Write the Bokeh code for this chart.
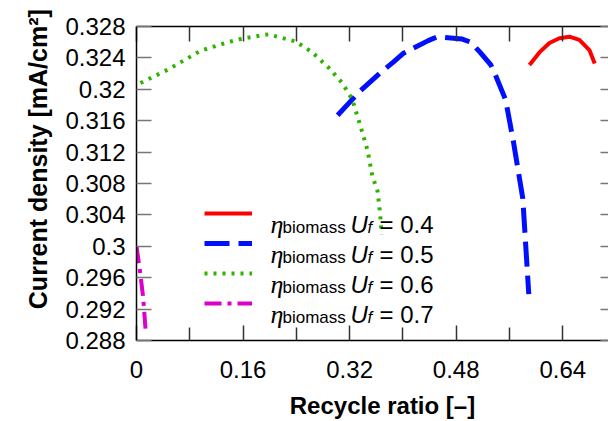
from bokeh.plotting import figure
from bokeh.models import LinearAxis, FixedTicker, Legend, LegendItem, Label, Range1d
from bokeh.embed import file_html
from bokeh.resources import INLINE

# ---- data ----
uf_values = ["0.4", "0.5", "0.6", "0.7"]

x_uf04 = [0.590, 0.605, 0.620, 0.635, 0.650, 0.665, 0.680, 0.688]
y_uf04 = [0.3231, 0.3247, 0.3259, 0.3265, 0.3267, 0.3263, 0.3250, 0.3233]

x_uf05 = [0.302, 0.336, 0.366, 0.386, 0.401, 0.438, 0.452, 0.489, 0.502,
          0.516, 0.532, 0.539, 0.554, 0.557, 0.566, 0.580, 0.589]
y_uf05 = [0.3167, 0.3198, 0.3221, 0.3235, 0.3246, 0.3262, 0.3267, 0.3264, 0.3260,
          0.3247, 0.3231, 0.3218, 0.3187, 0.3174, 0.3133, 0.3061, 0.2939]

x_uf06 = [0.006, 0.047, 0.096, 0.137, 0.161, 0.198, 0.239, 0.264, 0.288,
          0.309, 0.324, 0.336, 0.347, 0.354, 0.362, 0.366, 0.368]
y_uf06 = [0.3208, 0.3225, 0.3249, 0.3260, 0.3265, 0.3270, 0.3261, 0.3247, 0.3228,
          0.3208, 0.3187, 0.3154, 0.3122, 0.3090, 0.3070, 0.3040, 0.3015]

x_uf07 = [0.000, 0.005, 0.010, 0.0135]
y_uf07 = [0.3000, 0.2970, 0.2935, 0.2895]

x_major_ticks = [0, 0.16, 0.32, 0.48, 0.64]
x_minor_ticks = [0.08, 0.24, 0.40, 0.56]
x_tick_labels = ["0", "0.16", "0.32", "0.48", "0.64"]
y_ticks = [0.288, 0.292, 0.296, 0.3, 0.304, 0.308, 0.312, 0.316, 0.32, 0.324, 0.328]
y_tick_labels = ["0.288", "0.292", "0.296", "0.3", "0.304", "0.308", "0.312",
                 "0.316", "0.32", "0.324", "0.328"]

FONT = "Liberation Sans"
NB = "\u00a0"

p = figure(width=608, height=421,
           x_range=Range1d(0, 0.7087), y_range=Range1d(0.288, 0.328),
           output_backend="svg", toolbar_location=None,
           min_border_left=136, min_border_right=0,
           min_border_top=26, min_border_bottom=77,
           x_axis_label=NB * 3 + "Recycle ratio [\u2013]",
           y_axis_label=NB * 7 + "Current density [mA/cm\u00b2]")
p.outline_line_color = None
p.grid.visible = False
p.background_fill_color = "white"
p.border_fill_color = "white"

# bottom axis
xa = p.xaxis[0]
xa.ticker = FixedTicker(ticks=x_major_ticks, minor_ticks=x_minor_ticks)
xa.major_label_overrides = {t: s for t, s in zip(x_major_ticks, x_tick_labels)}
# left axis
ya = p.yaxis[0]
ya.ticker = FixedTicker(ticks=y_ticks)
ya.major_label_overrides = {t: s for t, s in zip(y_ticks, y_tick_labels)}

for ax in (xa, ya):
    ax.major_tick_in = 15
    ax.major_tick_out = 0
    ax.minor_tick_in = 13
    ax.minor_tick_out = 0
    ax.axis_line_color = "black"
    ax.axis_line_width = 1.5
    ax.major_tick_line_width = 1.5
    ax.minor_tick_line_width = 1.5
    ax.major_label_text_font = FONT
    ax.major_label_text_font_size = "24px"
    ax.major_label_text_color = "black"
    ax.axis_label_text_font = FONT
    ax.axis_label_text_font_style = "bold"
    ax.axis_label_text_color = "black"
xa.axis_label_text_font_size = "24px"
ya.axis_label_text_font_size = "25px"
xa.major_tick_line_color = "#333333"
xa.minor_tick_line_color = "#333333"
ya.major_tick_line_color = "#777777"
xa.major_label_standoff = 20
xa.axis_label_standoff = 11
ya.major_label_standoff = 11
ya.axis_label_standoff = 10

# top axis (ticks only)
top_ticks = sorted(x_major_ticks + x_minor_ticks)
top = LinearAxis(ticker=FixedTicker(ticks=top_ticks),
                 major_tick_in=15, major_tick_out=0, minor_tick_in=0, minor_tick_out=0,
                 major_label_overrides={t: "" for t in top_ticks},
                 major_label_standoff=0, major_label_text_font_size="10px",
                 axis_line_color="black", axis_line_width=1.5,
                 major_tick_line_color="#333333", major_tick_line_width=1.5)
p.add_layout(top, "above")
# right axis (ticks only, frame cut at the window edge)
right = LinearAxis(ticker=FixedTicker(ticks=y_ticks),
                   major_tick_in=8, major_tick_out=0, minor_tick_in=0, minor_tick_out=0,
                   major_label_overrides={t: "" for t in y_ticks},
                   major_label_standoff=0, major_label_text_font_size="10px",
                   axis_line_color=None,
                   major_tick_line_color="#777777", major_tick_line_width=1.5)
p.add_layout(right, "right")

r1 = p.line(x_uf04, y_uf04, line_color="#ff0000", line_width=4)
r2 = p.line(x_uf05, y_uf05, line_color="#0010ff", line_width=5, line_dash="25 9")
r3 = p.line(x_uf06, y_uf06, line_color="#2db400", line_width=4, line_dash="3 6")
r4 = p.line(x_uf07, y_uf07, line_color="#dd00cc", line_width=4, line_dash="17 6 4 6")

items = [LegendItem(label=" ", renderers=[r]) for r in (r1, r2, r3, r4)]
legend = Legend(items=items, location=(68, 22), padding=0, margin=0, spacing=0,
                glyph_width=48, glyph_height=30, label_height=30, label_width=0,
                label_standoff=0, label_text_font_size="10px",
                border_line_color=None, background_fill_alpha=0)
p.add_layout(legend, "center")

# legend label text: eta_biomass U_f = value
for i, val in enumerate(uf_values):
    base = 116 - 30 * i
    sub = 113 - 30 * i
    p.add_layout(Label(x=134, y=base, x_units="screen", y_units="screen", text="\u03b7",
                       text_font="Liberation Serif", text_font_style="italic",
                       text_font_size="26px", text_baseline="alphabetic", text_color="black"))
    p.add_layout(Label(x=146, y=sub, x_units="screen", y_units="screen", text="biomass",
                       text_font=FONT, text_font_size="17px",
                       text_baseline="alphabetic", text_color="black"))
    p.add_layout(Label(x=214, y=base, x_units="screen", y_units="screen", text="U",
                       text_font=FONT, text_font_style="italic", text_font_size="24px",
                       text_baseline="alphabetic", text_color="black"))
    p.add_layout(Label(x=231, y=sub, x_units="screen", y_units="screen", text="f",
                       text_font=FONT, text_font_style="italic", text_font_size="17px",
                       text_baseline="alphabetic", text_color="black"))
    p.add_layout(Label(x=243, y=base, x_units="screen", y_units="screen", text="= " + val,
                       text_font=FONT, text_font_size="24px",
                       text_baseline="alphabetic", text_color="black"))

open("out.html", "w").write(file_html(p, INLINE))
